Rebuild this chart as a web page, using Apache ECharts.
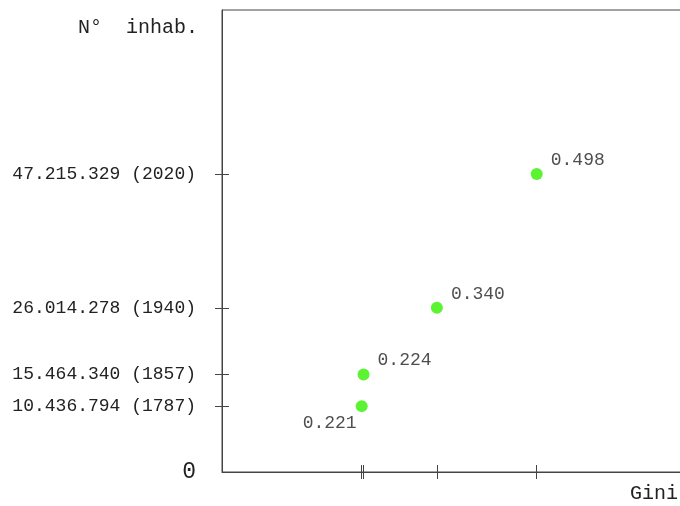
<!DOCTYPE html>
<html>
<head>
	<meta charset="UTF-8">
	<title></title>
	<style>
		body { margin: 0; background: #fff; }
		#chart { width: 680px; height: 506px; }
	</style>
	<script src="https://cdn.jsdelivr.net/npm/echarts@6/dist/echarts.min.js"></script>
</head>
<body>
	<div id="chart"></div>
	<script>
		var years = [1787, 1857, 1940, 2020];
		var population = [10436794, 15464340, 26014278, 47215329];
		var gini = [0.221, 0.224, 0.340, 0.498];

		var font = 'Liberation Mono';
		var ink = '#222';
		var axisColor = '#444';

		function dots(n) {
			return String(n).replace(/\B(?=(\d{3})+(?!\d))/g, '.');
		}

		// first point has its label under-left, the others above-right
		var points = gini.map(function (g, i) {
			var below = i === 0;
			return {
				value: [g, population[i]],
				label: {
					position: below ? 'left' : 'right',
					offset: below ? [6, 17] : [3, -14]
				}
			};
		});

		var myChart = echarts.init(document.getElementById('chart'));
		myChart.setOption({
			animation: false,
			title: [
				{
					text: 'N°  inhab.',
					right: 482,
					top: 18,
					padding: 0,
					textStyle: { fontFamily: font, fontSize: 20, fontWeight: 'normal', color: ink }
				},
				{
					text: 'Gini',
					right: 2,
					top: 484,
					padding: 0,
					textStyle: { fontFamily: font, fontSize: 20, fontWeight: 'normal', color: ink }
				}
			],
			grid: {
				left: 222,
				top: 10,
				bottom: 34,
				right: -16,
				show: true,
				borderColor: axisColor,
				borderWidth: 1,
				outerBoundsMode: 'none'
			},
			xAxis: [
				{
					type: 'value',
					position: 'bottom',
					min: 0,
					max: 0.75,
					splitLine: { show: false },
					axisLine: { lineStyle: { color: axisColor } },
					axisTick: { length: 7, customValues: gini, lineStyle: { color: axisColor } },
					axisLabel: { show: false }
				},
				{
					type: 'value',
					position: 'bottom',
					min: 0,
					max: 0.75,
					splitLine: { show: false },
					axisLine: { show: false },
					axisTick: { inside: true, length: 7, customValues: gini, lineStyle: { color: axisColor } },
					axisLabel: { show: false }
				}
			],
			yAxis: [
				{
					type: 'value',
					position: 'left',
					min: 0,
					max: 73200000,
					splitLine: { show: false },
					axisLine: { lineStyle: { color: axisColor } },
					axisTick: { length: 7, customValues: population, lineStyle: { color: axisColor } },
					axisLabel: {
						customValues: [0].concat(population),
						margin: 26,
						fontFamily: font,
						fontSize: 18,
						color: ink,
						formatter: function (v) {
							var i = population.indexOf(v);
							if (i < 0) return '{zero|0}';
							return dots(v) + ' (' + years[i] + ')';
						},
						rich: {
							zero: { fontFamily: font, fontSize: 23, color: ink }
						}
					}
				},
				{
					type: 'value',
					position: 'left',
					min: 0,
					max: 73200000,
					splitLine: { show: false },
					axisLine: { show: false },
					axisTick: { inside: true, length: 7, customValues: population, lineStyle: { color: axisColor } },
					axisLabel: { show: false }
				}
			],
			series: [
				{
					type: 'scatter',
					xAxisIndex: 0,
					yAxisIndex: 0,
					symbolSize: 12,
					itemStyle: { color: '#33f000' },
					label: {
						show: true,
						fontFamily: font,
						fontSize: 18,
						color: ink,
						formatter: function (p) { return p.value[0].toFixed(3); }
					},
					data: points
				}
			]
		});
	</script>
</body>
</html>
